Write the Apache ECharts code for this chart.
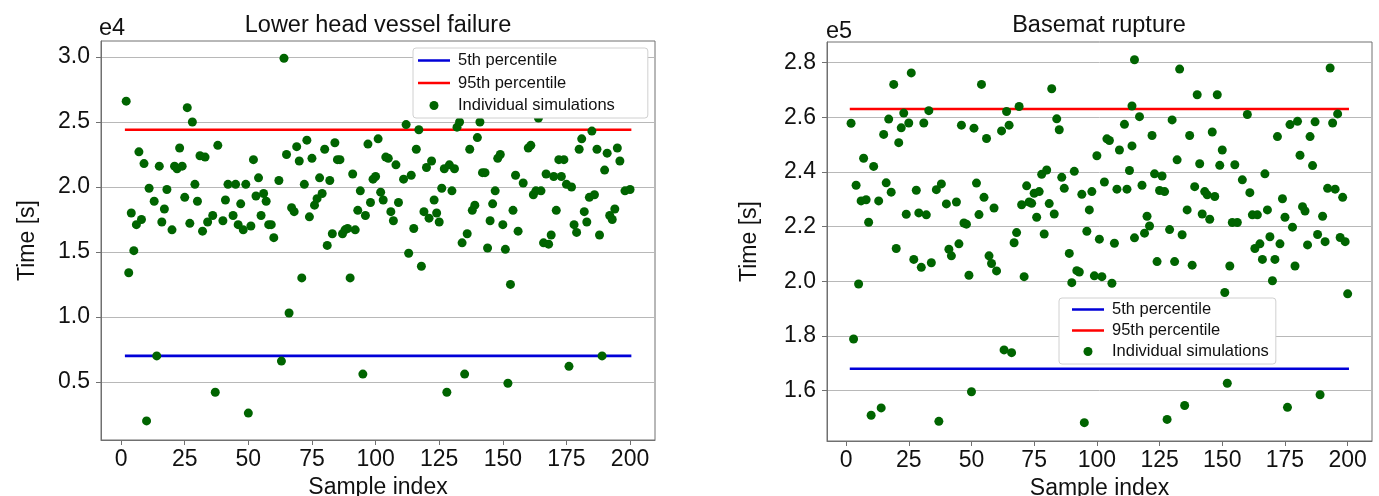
<!DOCTYPE html>
<html><head><meta charset="utf-8">
<script src="https://cdn.jsdelivr.net/npm/echarts@6/dist/echarts.min.js"></script>
<style>html,body{margin:0;padding:0;background:#fff}#c{width:1379px;height:496px}</style>
</head><body><div id="c"></div>
<script>
// ---- data (times shown in axis units: e4 s for left panel, e5 s for right panel) ----
const xTicks = [0, 25, 50, 75, 100, 125, 150, 175, 200];
const lowerHeadYTicks = [0.5, 1.0, 1.5, 2.0, 2.5, 3.0];
const basematYTicks = [1.6, 1.8, 2.0, 2.2, 2.4, 2.6, 2.8];
const legendNames = ['5th percentile', '95th percentile', 'Individual simulations'];
const lineSpan = [2, 200];
const lowerHeadPercentiles = [0.70, 2.44];
const basematPercentiles = [1.68, 2.63];

const lowerHeadIndex = [
  2,3,4,5,6,7,8,9,10,11,13,14,15,16,17,18,20,21,22,23,24,25,26,27,28,29,30,31,32,33,34,36,37,38,40,41,42,44,45,46,47,48,49,50,51,52,53,54,55,56,57,58,59,60,62,63,64,65,66,67,
  68,69,70,71,72,73,74,75,76,77,78,79,80,81,82,83,84,85,86,87,88,89,90,91,92,93,94,95,96,97,98,99,100,101,102,103,104,105,106,107,108,109,111,112,113,114,115,116,117,118,119,120,121,122,123,124,125,126,127,128,129,130,131,132,133,134,135,136,137,138,139,
  140,141,142,143,144,145,146,147,148,149,150,151,152,153,154,155,156,158,160,161,162,163,164,165,166,167,168,169,170,171,172,173,174,175,176,177,178,179,180,181,182,183,184,185,186,187,188,189,190,191,192,193,194,195,196,198,200
];
const lowerHeadTime = [
  2.66,1.34,1.80,1.51,1.71,2.27,1.75,2.18,0.20,1.99,1.89,0.70,2.16,1.73,1.83,1.98,1.67,2.16,2.14,2.30,2.16,1.92,2.61,1.72,2.50,2.02,1.89,2.24,1.66,2.23,1.73,1.78,0.42,2.32,1.74,1.90,2.02,1.78,2.02,1.71,1.87,1.67,2.02,0.26,1.70,2.21,1.93,2.07,1.78,1.95,1.89,1.71,1.71,1.61,2.05,0.66,2.99,2.25,1.03,1.84,
  1.81,2.31,2.20,1.30,2.02,2.36,1.77,2.22,1.86,1.91,2.07,1.95,2.29,1.55,2.05,1.64,2.34,2.21,2.21,1.64,1.67,1.68,1.30,2.10,1.67,1.82,1.97,0.56,1.78,2.33,1.88,2.06,2.08,2.37,1.96,1.90,2.23,2.22,1.81,1.74,2.17,1.88,2.06,2.48,1.49,2.09,1.68,2.29,2.44,1.39,1.81,2.15,1.76,2.20,1.90,1.80,1.73,1.99,2.14,0.42,2.17,1.97,2.14,2.46,2.50,1.57,0.56,1.64,2.29,1.82,1.86,
  2.38,2.50,2.11,2.11,1.53,1.74,1.87,1.97,2.22,2.25,1.71,1.52,0.49,1.25,1.82,2.09,1.66,2.03,2.30,2.32,1.94,1.97,2.53,1.97,1.57,2.10,1.56,1.63,2.08,1.82,2.21,2.08,2.21,2.02,0.62,2.00,1.71,1.65,2.29,2.37,1.81,1.73,1.92,2.43,1.94,2.29,1.63,0.70,2.13,2.26,1.78,1.75,1.83,2.30,2.20,1.97,1.98
];

const basematIndex = [
  2,3,4,5,6,7,8,9,10,11,13,14,15,16,17,18,19,20,21,22,23,24,25,26,27,28,29,30,31,32,33,34,36,37,38,40,41,42,44,45,46,47,48,49,50,51,52,53,54,55,56,57,58,59,60,62,63,64,65,66,
  67,68,69,70,71,72,73,74,75,76,77,78,79,80,81,82,83,84,85,86,87,89,90,91,92,93,94,95,96,97,98,99,100,101,102,103,104,105,106,107,108,109,111,112,113,114,114,115,115,117,118,119,120,121,122,123,124,125,126,127,128,129,130,131,132,133,134,135,
  136,137,138,139,140,141,142,143,144,145,146,147,148,149,150,151,152,153,154,155,156,158,160,161,162,163,164,165,166,167,168,169,170,171,172,173,174,175,176,177,178,179,180,181,182,183,184,185,186,187,188,189,190,191,192,193,194,195,196,197,198,199,200
];
const basematTime = [
  2.578,1.789,2.351,1.990,2.294,2.450,2.298,2.216,1.510,2.420,2.294,1.537,2.537,2.360,2.593,2.326,2.720,2.120,2.507,2.561,2.615,2.245,2.579,2.762,2.080,2.333,2.250,2.051,2.579,2.243,2.624,2.068,2.335,1.488,2.356,2.283,2.117,2.093,2.290,2.137,2.571,2.213,2.209,2.022,1.596,2.560,2.359,2.244,2.720,2.307,2.522,2.093,2.065,2.268,2.038,2.550,1.749,2.621,2.571,1.739,
  2.141,2.178,2.639,2.280,2.017,2.349,2.290,2.285,2.322,2.234,2.328,2.391,2.173,2.407,2.284,2.704,2.246,2.594,2.554,2.380,2.340,2.102,1.995,2.402,2.039,2.034,2.318,1.483,2.183,2.261,2.328,2.020,2.459,2.154,2.017,2.363,2.521,2.515,1.993,2.139,2.337,2.480,2.574,2.337,2.405,2.641,2.495,2.810,2.159,2.602,2.351,2.176,2.238,2.202,2.533,2.393,2.072,2.332,2.385,2.328,1.495,2.189,2.590,2.072,2.444,2.776,2.170,1.546,
  2.261,2.533,2.059,2.346,2.682,2.430,2.246,2.328,2.316,2.227,2.546,2.310,2.682,2.424,2.480,1.959,1.627,2.056,2.215,2.426,2.215,2.371,2.610,2.324,2.243,2.120,2.243,2.137,2.080,2.393,2.261,2.163,2.002,2.080,2.529,2.137,2.302,2.234,1.539,2.573,2.198,2.056,2.585,2.461,2.273,2.257,2.133,2.529,2.423,2.583,2.171,1.585,2.238,2.145,2.340,2.780,2.579,2.337,2.612,2.160,2.307,2.145,1.954
];

// ---- styling ----
const FONT = "'Liberation Sans', Arial, sans-serif";
const TXT = '#111111';
const AX = '#707070';
const GRIDC = '#b8b8b8';
const BLUE = '#0000d8';
const RED = '#ff0000';
const GREEN = '#006400';
// legend line sample: thin horizontal bar inside a 32x9 box (corner points fix the box)
const LINE_ICON = 'path://M0,0L0.01,0M0,3.2L32,3.2L32,5.8L0,5.8ZM31.99,9L32,9';

function makeX(gi, min, max) {
  return {
    type: 'value', gridIndex: gi, min: min, max: max,
    name: 'Sample index', nameLocation: 'middle', nameGap: 35,
    nameTextStyle: { fontFamily: FONT, fontSize: 23, color: TXT },
    axisLine: { show: true, onZero: false, lineStyle: { color: AX, width: 1 } },
    axisTick: { show: true, inside: false, length: 5, lineStyle: { color: AX }, customValues: xTicks },
    axisLabel: { customValues: xTicks, fontFamily: FONT, fontSize: 23, color: TXT, margin: 8 },
    splitLine: { show: false }
  };
}
function makeY(gi, min, max, ticks, gap) {
  return {
    type: 'value', gridIndex: gi, min: min, max: max,
    name: 'Time [s]', nameLocation: 'middle', nameGap: gap, nameRotate: 90,
    nameTextStyle: { fontFamily: FONT, fontSize: 23, color: TXT },
    axisLine: { show: true, onZero: false, lineStyle: { color: AX, width: 1 } },
    axisTick: { show: true, inside: false, length: 5, lineStyle: { color: AX }, customValues: ticks },
    axisLabel: { customValues: ticks, fontFamily: FONT, fontSize: 23, color: TXT, margin: 11,
                 formatter: function (v) { return v.toFixed(1); } },
    splitLine: { show: true, lineStyle: { color: GRIDC, width: 1 } }
  };
}
function pLine(name, gi, value, color) {
  return {
    type: 'line', name: name, xAxisIndex: gi, yAxisIndex: gi,
    data: lineSpan.map(function (x) { return [x, value]; }),
    symbol: 'none', silent: true, z: 2,
    lineStyle: { color: color, width: 2.6, cap: 'square' }, itemStyle: { color: color }
  };
}
function scat(gi, xs, ys) {
  return {
    type: 'scatter', name: 'Individual simulations', xAxisIndex: gi, yAxisIndex: gi,
    data: xs.map(function (x, i) { return [x, ys[i]]; }),
    symbol: 'circle', symbolSize: 9, z: 3,
    itemStyle: { color: GREEN, opacity: 1 }
  };
}
function makeLegend(left, top, pad, gap) {
  return {
    orient: 'vertical', left: left, top: top,
    data: [
      { name: legendNames[0], icon: LINE_ICON },
      { name: legendNames[1], icon: LINE_ICON },
      { name: legendNames[2], icon: 'circle' }
    ],
    itemWidth: 32, itemHeight: 9, itemGap: gap, padding: pad,
    backgroundColor: '#ffffff', borderColor: '#d0d0d0', borderWidth: 1, borderRadius: 3,
    selectedMode: false,
    textStyle: { fontFamily: FONT, fontSize: 16.5, color: TXT, padding: [0, 0, 0, 3] }
  };
}
const titleStyle = { fontFamily: FONT, fontSize: 23.5, fontWeight: 'normal', color: TXT };

const chart = echarts.init(document.getElementById('c'), null, { renderer: 'canvas' });
chart.setOption({
  animation: false,
  backgroundColor: '#ffffff',
  title: [
    { text: 'Lower head vessel failure', left: 378, top: 14, textAlign: 'center', padding: 0, textStyle: titleStyle },
    { text: 'Basemat rupture', left: 1099, top: 14, textAlign: 'center', padding: 0, textStyle: titleStyle },
    { text: 'e4', left: 99, top: 17, padding: 0, textStyle: titleStyle },
    { text: 'e5', left: 826, top: 20, padding: 0, textStyle: titleStyle }
  ],
  grid: [
    { left: 101, top: 41, width: 554, height: 399, show: true, borderColor: AX, borderWidth: 1, backgroundColor: 'transparent', containLabel: false, outerBoundsMode: 'none' },
    { left: 827, top: 42, width: 545, height: 399, show: true, borderColor: AX, borderWidth: 1, backgroundColor: 'transparent', containLabel: false, outerBoundsMode: 'none' }
  ],
  xAxis: [ makeX(0, -7.9, 209.8), makeX(1, -7.6, 209.7) ],
  yAxis: [ makeY(0, 0.053, 3.123, lowerHeadYTicks, 62), makeY(1, 1.416, 2.875, basematYTicks, 66) ],
  legend: [
    makeLegend(413, 48, [4, 33, 4, 5], 5.5),
    makeLegend(1059, 298, [3, 7, 4, 13], 4)
  ],
  series: [
    pLine('5th percentile', 0, lowerHeadPercentiles[0], BLUE),
    pLine('95th percentile', 0, lowerHeadPercentiles[1], RED),
    scat(0, lowerHeadIndex, lowerHeadTime),
    pLine('5th percentile', 1, basematPercentiles[0], BLUE),
    pLine('95th percentile', 1, basematPercentiles[1], RED),
    scat(1, basematIndex, basematTime)
  ]
});
</script></body></html>
